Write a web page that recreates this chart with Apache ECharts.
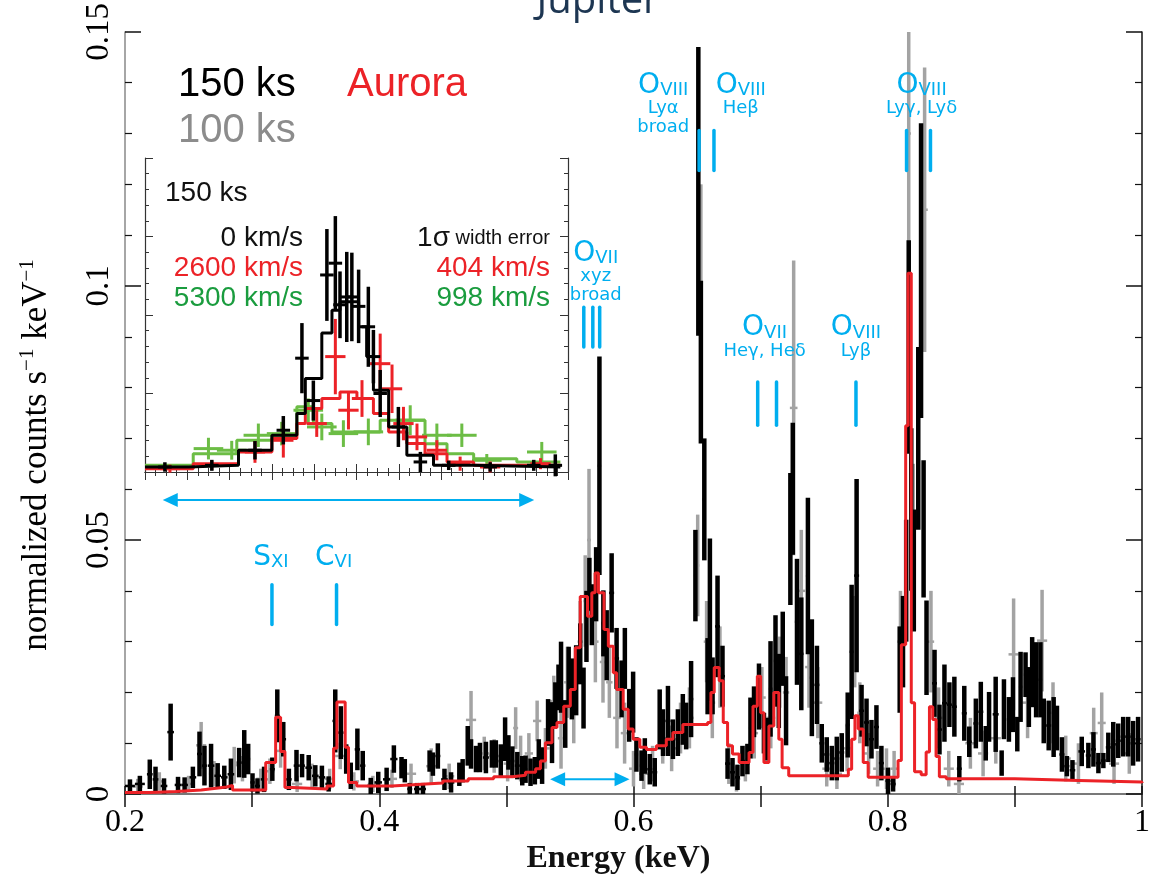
<!DOCTYPE html>
<html>
<head>
<meta charset="utf-8">
<script src="https://cdn.jsdelivr.net/npm/echarts@6/dist/echarts.min.js"></script>
<style>
  html, body { margin: 0; padding: 0; background: #fff; }
  #chart { width: 1153px; height: 880px; }
</style>
</head>
<body>
<div id="chart"></div>
<script>
// 150 ks spectrum (black)
const blackE = [0.2039,0.2117,0.2195,0.2240,0.2307,0.2359,0.2417,0.2469,0.2534,0.2586,0.2625,0.2677,0.2729,0.2781,0.2833,0.2898,0.2938,0.2969,0.3003,0.3042,0.3094,0.3159,0.3198,0.3245,0.3289,0.3349,0.3393,0.3445,0.3497,0.3549,0.3602,0.3654,0.3698,0.3740,
  0.3776,0.3828,0.3870,0.3933,0.3992,0.4058,0.4115,0.4175,0.4201,0.4240,0.4297,0.4344,0.4396,0.4422,0.4461,0.4513,0.4565,0.4630,0.4656,0.4696,0.4722,0.4761,0.4792,0.4839,0.4886,0.4917,0.4956,0.4990,0.5016,0.5047,0.5086,0.5125,0.5151,0.5190,0.5224,0.5255,0.5281,
  0.5328,0.5359,0.5385,0.5410,0.5430,0.5463,0.5490,0.5515,0.5549,0.5581,0.5607,0.5630,0.5653,0.5672,0.5706,0.5732,0.5763,0.5789,0.5828,0.5867,0.5906,0.5932,0.5966,0.5997,
  0.6023,0.6063,0.6089,0.6128,0.6167,0.6206,0.6232,0.6271,0.6310,0.6349,0.6388,0.6414,0.6453,0.6487,0.6510,0.6530,0.6557,0.6583,0.6601,0.6622,0.6661,0.6700,0.6740,0.6779,0.6818,0.6857,0.6896,0.6920,0.6948,0.6987,
  0.7026,0.7052,0.7078,0.7117,0.7143,0.7174,0.7200,0.7234,0.7253,0.7286,0.7320,0.7372,0.7403,0.7443,0.7481,0.7520,0.7560,0.7599,0.7638,0.7685,0.7716,0.7755,0.7794,0.7833,0.7872,0.7911,0.7950,0.8002,
  0.8042,0.8094,0.8120,0.8145,0.8165,0.8185,0.8205,0.8240,0.8262,0.8282,0.8305,0.8368,0.8407,0.8446,0.8485,0.8524,0.8563,0.8602,0.8641,0.8693,0.8732,0.8771,0.8797,0.8849,0.8896,0.8914,0.8953,0.8985,
  0.9019,0.9045,0.9084,0.9110,0.9136,0.9167,0.9201,0.9227,0.9266,0.9305,0.9331,0.9370,0.9409,0.9453,0.9526,0.9578,0.9618,0.9657,0.9696,0.9735,0.9774,0.9813,0.9852,0.9891,0.9930,0.9969];
const blackY = [0.0016,0.0020,0.0039,0.0029,0.0016,0.0122,0.0018,0.0018,0.0033,0.0079,0.0056,0.0056,0.0036,0.0033,0.0039,0.0062,0.0079,0.0069,0.0023,0.0016,0.0029,0.0049,0.0154,0.0108,0.0029,0.0056,0.0056,0.0052,0.0036,0.0033,0.0020,0.0144,0.0121,0.0069,
  0.0036,0.0088,0.0056,0.0016,0.0023,0.0029,0.0069,0.0052,0.0046,0.0010,0.0010,0.0010,0.0065,0.0059,0.0075,0.0029,0.0023,0.0039,0.0046,0.0095,0.0079,0.0069,0.0072,0.0072,0.0079,0.0079,0.0065,0.0108,0.0082,0.0065,0.0056,0.0046,0.0049,0.0043,0.0046,0.0069,0.0056,
  0.0141,0.0121,0.0175,0.0210,0.0230,0.0138,0.0230,0.0207,0.0224,0.0276,0.0189,0.0330,0.0413,0.0353,0.0413,0.0646,0.0336,0.0293,0.0396,0.0267,0.0207,0.0267,0.0155,0.0181,
  0.0078,0.0056,0.0075,0.0049,0.0043,0.0147,0.0121,0.0144,0.0108,0.0121,0.0147,0.0134,0.0187,0.0430,0.1186,0.0850,0.0580,0.0232,0.0343,0.0213,0.0330,0.0232,0.0060,0.0043,0.0033,0.0065,0.0069,0.0130,0.0162,0.0192,
  0.0120,0.0108,0.0207,0.0262,0.0203,0.0286,0.0164,0.0502,0.0601,0.0339,0.0276,0.0429,0.0229,0.0215,0.0100,0.0078,0.0061,0.0070,0.0082,0.0136,0.0280,0.0430,0.0164,0.0141,0.0108,0.0132,0.0061,0.0026,
  0.0020,0.0245,0.0300,0.0420,0.0880,0.0560,0.0440,0.0700,0.1030,0.0522,0.0288,0.0218,0.0127,0.0179,0.0176,0.0172,0.0050,0.0159,0.0103,0.0139,0.0162,0.0100,0.0152,0.0157,0.0061,0.0167,0.0147,0.0176,
  0.0118,0.0211,0.0235,0.0191,0.0240,0.0225,0.0225,0.0144,0.0135,0.0132,0.0130,0.0078,0.0055,0.0047,0.0084,0.0076,0.0088,0.0061,0.0066,0.0092,0.0098,0.0105,0.0113,0.0113,0.0100,0.0108];
const blackErr = [0.0013,0.0016,0.0029,0.0025,0.0015,0.0056,0.0016,0.0015,0.0021,0.0044,0.0039,0.0043,0.0025,0.0023,0.0031,0.0029,0.0047,0.0030,0.0018,0.0015,0.0025,0.0023,0.0052,0.0034,0.0021,0.0031,0.0023,0.0025,0.0021,0.0023,0.0015,0.0062,0.0052,0.0029,
  0.0026,0.0041,0.0029,0.0016,0.0021,0.0023,0.0027,0.0021,0.0023,0.0012,0.0012,0.0012,0.0021,0.0023,0.0025,0.0021,0.0020,0.0023,0.0023,0.0039,0.0029,0.0026,0.0029,0.0031,0.0027,0.0027,0.0033,0.0043,0.0034,0.0029,0.0027,0.0029,0.0027,0.0027,0.0027,0.0039,0.0036,
  0.0046,0.0060,0.0045,0.0045,0.0070,0.0047,0.0060,0.0060,0.0069,0.0060,0.0060,0.0070,0.0052,0.0060,0.0073,0.0215,0.0065,0.0069,0.0078,0.0060,0.0056,0.0060,0.0052,0.0060,
  0.0034,0.0030,0.0035,0.0030,0.0028,0.0059,0.0046,0.0069,0.0039,0.0046,0.0050,0.0046,0.0075,0.0090,0.0284,0.0160,0.0120,0.0075,0.0160,0.0056,0.0100,0.0060,0.0030,0.0028,0.0025,0.0030,0.0030,0.0060,0.0050,0.0065,
  0.0040,0.0042,0.0094,0.0090,0.0073,0.0073,0.0068,0.0130,0.0130,0.0124,0.0111,0.0154,0.0115,0.0077,0.0038,0.0034,0.0034,0.0043,0.0038,0.0064,0.0132,0.0190,0.0051,0.0047,0.0038,0.0043,0.0034,0.0026,
  0.0015,0.0085,0.0090,0.0120,0.0210,0.0160,0.0120,0.0180,0.0290,0.0135,0.0093,0.0066,0.0049,0.0076,0.0044,0.0059,0.0025,0.0054,0.0030,0.0049,0.0059,0.0034,0.0049,0.0074,0.0025,0.0059,0.0044,0.0054,
  0.0034,0.0069,0.0044,0.0059,0.0069,0.0074,0.0074,0.0044,0.0049,0.0059,0.0044,0.0034,0.0020,0.0020,0.0029,0.0025,0.0034,0.0020,0.0015,0.0029,0.0044,0.0034,0.0039,0.0039,0.0044,0.0044];

// 100 ks spectrum (grey)
const greyE = [0.2100,0.2270,0.2500,0.2599,0.2700,0.2859,0.2924,0.3068,0.3140,0.3224,0.3354,0.3471,0.3610,0.3693,0.3800,0.3950,0.4100,0.4250,0.4409,0.4550,0.4722,0.4826,0.4904,0.5010,0.5073,0.5112,0.5177,0.5242,0.5307,0.5373,
  0.5430,0.5480,0.5530,0.5580,0.5620,0.5650,0.5700,0.5760,0.5810,0.5870,0.5930,0.6000,0.6080,0.6150,0.6230,0.6300,0.6370,0.6440,0.6505,0.6530,0.6575,0.6620,0.6680,0.6750,0.6810,0.6880,0.6950,0.7010,0.7080,0.7150,
  0.7200,0.7260,0.7320,0.7380,0.7450,0.7520,0.7600,0.7680,0.7740,0.7780,0.7850,0.7920,0.7990,0.8050,0.8100,0.8165,0.8200,0.8290,0.8340,0.8400,0.8480,0.8560,0.8650,0.8750,0.8850,0.8990,0.9100,0.9214,0.9300,0.9400,
  0.9500,0.9620,0.9683,0.9780,0.9900];
const greyY = [0.0015,0.0025,0.0020,0.0096,0.0040,0.0057,0.0050,0.0030,0.0045,0.0085,0.0020,0.0035,0.0030,0.0075,0.0025,0.0020,0.0030,0.0040,0.0055,0.0035,0.0146,0.0080,0.0075,0.0060,0.0130,0.0070,0.0080,0.0144,0.0090,0.0183,
  0.0110,0.0220,0.0160,0.0300,0.0380,0.0500,0.0300,0.0260,0.0220,0.0150,0.0120,0.0050,0.0040,0.0060,0.0110,0.0090,0.0130,0.0150,0.0450,0.0950,0.0300,0.0180,0.0250,0.0060,0.0030,0.0060,0.0120,0.0190,0.0150,0.0240,
  0.0200,0.0760,0.0400,0.0250,0.0180,0.0050,0.0040,0.0090,0.0300,0.0160,0.0080,0.0050,0.0050,0.0050,0.0300,0.1300,0.0500,0.1150,0.0300,0.0150,0.0050,0.0020,0.0100,0.0080,0.0110,0.0275,0.0180,0.0302,0.0160,0.0070,
  0.0060,0.0120,0.0140,0.0060,0.0080];
const greyErr = [0.0015,0.0018,0.0016,0.0046,0.0025,0.0036,0.0025,0.0020,0.0025,0.0033,0.0016,0.0025,0.0020,0.0026,0.0018,0.0016,0.0018,0.0020,0.0035,0.0025,0.0057,0.0033,0.0033,0.0035,0.0041,0.0045,0.0040,0.0040,0.0040,0.0050,
  0.0060,0.0070,0.0060,0.0080,0.0090,0.0140,0.0080,0.0080,0.0070,0.0060,0.0060,0.0035,0.0030,0.0035,0.0050,0.0045,0.0050,0.0060,0.0100,0.0250,0.0080,0.0070,0.0080,0.0040,0.0025,0.0035,0.0050,0.0060,0.0060,0.0070,
  0.0070,0.0290,0.0120,0.0080,0.0070,0.0035,0.0030,0.0045,0.0090,0.0060,0.0040,0.0035,0.0040,0.0035,0.0100,0.0300,0.0150,0.0280,0.0100,0.0060,0.0035,0.0020,0.0050,0.0045,0.0050,0.0110,0.0070,0.0100,0.0060,0.0045,
  0.0040,0.0050,0.0060,0.0040,0.0040];

// aurora model (red step, bin left edges)
const modelE = [0.2000,0.2200,0.2400,0.2600,0.2700,0.2800,0.2846,0.3107,0.3185,0.3224,0.3258,0.3315,0.3589,0.3641,0.3667,0.3732,0.3758,0.3823,0.4100,0.4300,0.4500,0.4700,0.4900,0.5050,0.5150,0.5230,
  0.5268,0.5307,0.5359,0.5398,0.5451,0.5503,0.5542,0.5581,0.5638,0.5672,0.5698,0.5724,0.5768,0.5802,0.5841,0.5867,0.5919,0.5958,0.5997,0.6050,0.6102,0.6180,0.6258,0.6310,0.6388,0.6583,0.6609,0.6635,0.6674,0.6706,
  0.6740,0.6779,0.6831,0.6909,0.6940,0.6974,0.7000,0.7026,0.7065,0.7104,0.7143,0.7169,0.7221,0.7690,0.7716,0.7742,0.7768,0.7807,0.7846,0.8081,0.8107,0.8141,0.8159,0.8185,0.8211,0.8263,0.8302,0.8328,0.8354,0.8380,
  0.8406,0.8460,0.9000,0.9500,1.0000];
const modelY = [0.0003,0.0005,0.0008,0.0011,0.0014,0.0017,0.0008,0.0062,0.0151,0.0084,0.0013,0.0010,0.0016,0.0090,0.0181,0.0092,0.0023,0.0016,0.0019,0.0022,0.0026,0.0030,0.0034,0.0037,0.0043,0.0050,
  0.0065,0.0101,0.0131,0.0141,0.0173,0.0206,0.0288,0.0389,0.0350,0.0396,0.0435,0.0396,0.0324,0.0291,0.0239,0.0206,0.0167,0.0128,0.0108,0.0092,0.0088,0.0095,0.0108,0.0121,0.0137,0.0141,0.0200,0.0249,0.0223,0.0141,
  0.0095,0.0079,0.0062,0.0082,0.0173,0.0232,0.0160,0.0062,0.0134,0.0200,0.0108,0.0052,0.0036,0.0049,0.0108,0.0154,0.0128,0.0062,0.0033,0.0066,0.0294,0.0725,0.1025,0.0180,0.0044,0.0038,0.0083,0.0172,0.0147,0.0074,
  0.0034,0.0030,0.0027,0.0024,0.0022];

// inset: O VII region, energy in eV, counts in inset units
const inBlackEdge = [520,530.3,542.1,550.0,555.9,557.9,561.8,564.2,566.1,570.5,572.4,574.0,577.6,581.9,588.2,597.7,618.2];
const inBlackStep = [0.064,0.085,0.277,0.468,0.745,1.19,1.77,2.06,2.17,1.85,1.47,1.04,0.574,0.213,0.085,0.064,0.064];
const inRedEdge = [520,531.4,542.1,550.0,555.9,557.9,561.8,566.1,570.1,574.0,577.6,581.9,586.2,591.4,597.7,618.2];
const inRedStep = [0.04,0.106,0.255,0.426,0.617,0.81,0.936,1.02,0.936,0.745,0.51,0.362,0.234,0.128,0.085,0.085];
const inGreenEdge = [520,531.4,541.7,550.0,555.9,559.8,564.2,575.6,586.2,591.4,597.7,607.9,618.2];
const inGreenStep = [0.085,0.234,0.404,0.468,0.83,0.617,0.51,0.66,0.36,0.234,0.17,0.128,0.128];

const inBlackE = [524.7,535.8,546.0,552.7,557.1,559.8,563.0,565.0,566.1,567.7,568.9,570.5,572.8,574.0,575.6,579.9,585.1,591.8,601.6,611.9,617.0];
const inBlackY = [0.064,0.085,0.277,0.532,1.45,0.91,2.51,2.66,2.13,2.23,2.23,2.11,1.85,1.47,1.00,0.574,0.128,0.085,0.064,0.085,0.085];
const inBlackErr = [0.06,0.07,0.117,0.181,0.447,0.255,0.585,0.60,0.425,0.574,0.564,0.468,0.51,0.34,0.30,0.255,0.128,0.06,0.06,0.07,0.14];
const inRedE = [525.9,535.8,546.0,552.7,560.6,565.0,568.1,571.3,575.6,578.4,581.1,584.3,589.0,594.5,601.6,613.5];
const inRedY = [0.043,0.085,0.255,0.404,0.617,1.47,0.787,0.936,1.38,1.06,0.617,0.447,0.277,0.106,0.064,0.106];
const inRedErr = [0.05,0.06,0.138,0.22,0.17,0.48,0.245,0.234,0.383,0.309,0.213,0.17,0.128,0.09,0.07,0.07];
const inGreenE = [535.0,540.5,546.8,552.3,558.6,561.8,566.9,572.8,582.7,589.0,594.9,600.8,613.8];
const inGreenY = [0.298,0.277,0.468,0.489,0.787,0.574,0.489,0.511,0.66,0.468,0.468,0.149,0.255];
const inGreenErr = [0.138,0.12,0.149,0.15,0.15,0.17,0.17,0.17,0.19,0.149,0.149,0.08,0.128];

// line identifications
const markE = [0.3156,0.3664,0.5609,0.5680,0.5734,0.6516,0.6633,0.6977,0.7125,0.7750,0.8148,0.8336];
const markTop = [0.0412,0.0412,0.0958,0.0958,0.0958,0.1306,0.1306,0.0811,0.0811,0.0811,0.1306,0.1306];
const markBottom = [0.0334,0.0334,0.0880,0.0880,0.0880,0.1227,0.1227,0.0726,0.0726,0.0726,0.1227,0.1227];
const labelE = [0.3148,0.3641,0.5703,0.6234,0.6844,0.7031,0.7750,0.8266];
const labelY = [0.0465,0.0465,0.1064,0.1394,0.1394,0.0917,0.0917,0.1394];
const labelIon = ['S','C','O','O','O','O','O','O'];
const labelStage = ['XI','VI','VII','VIII','VIII','VII','VIII','VIII'];
const labelSub = [[],[],['xyz','broad'],['Lyα','broad'],['Heβ'],['Heγ, Heδ'],['Lyβ'],['Lyγ, Lyδ']];
const arrowFrom = [0.2297,0.5344];
const arrowTo = [0.5219,0.5969];
const arrowY = [0.0579,0.0029];

const BLUE = '#00aeef';
const RED = '#ec2227';

function crossData(E, Y, Err, cap) {
    return E.map((e, i) => {
        const prev = i > 0 ? e - E[i - 1] : E[i + 1] - e;
        const next = i < E.length - 1 ? E[i + 1] - e : prev;
        return [e, Y[i], Err[i], Math.min(prev, next, cap) / 2];
    });
}
function fixedCross(E, Y, Err, hw) {
    return E.map((e, i) => [e, Y[i], Err[i], hw]);
}
function stepData(E, Y) {
    return E.map((e, i) => [e, Y[i]]);
}
function crossRender(color, vw, hw) {
    return function (params, api) {
        const x = api.value(0), y = api.value(1), e = api.value(2), h = api.value(3);
        const a = api.coord([x, y - e]), b = api.coord([x, y + e]);
        const c = api.coord([x - h, y]), d = api.coord([x + h, y]);
        return {
            type: 'group',
            children: [
                { type: 'line', shape: { x1: a[0], y1: a[1], x2: b[0], y2: b[1] }, style: { stroke: color, lineWidth: vw } },
                { type: 'line', shape: { x1: c[0], y1: c[1], x2: d[0], y2: d[1] }, style: { stroke: color, lineWidth: hw } }
            ]
        };
    };
}

const chart = echarts.init(document.getElementById('chart'));

const serif = 'Liberation Serif';
const sans = 'Liberation Sans';

chart.setOption({
    animation: false,
    backgroundColor: '#fff',
    grid: [
        { left: 125, top: 31, width: 1024, height: 764 },
        { left: 145, top: 158, width: 423, height: 314, show: true, backgroundColor: '#fff', borderWidth: 0 }
    ],
    xAxis: [
        {
            gridIndex: 0, type: 'value', min: 0.2, max: 1, interval: 0.1, position: 'bottom',
            axisLine: { lineStyle: { color: '#111', width: 1.5 } },
            axisTick: { inside: true, length: 8, lineStyle: { color: '#111', width: 1.5 } },
            axisLabel: {
                fontFamily: serif, fontSize: 32, color: '#000', margin: 12,
                formatter: v => { const t = Math.round(v * 10); if (t % 2) return ''; return t === 10 ? '1' : (t / 10).toFixed(1); }
            },
            splitLine: { show: false },
            name: 'Energy (keV)', nameLocation: 'middle', nameGap: 47,
            nameTextStyle: { fontFamily: serif, fontSize: 32, fontWeight: 'bold', color: '#111', padding: [0, 30, 0, 0] }
        },
        {
            gridIndex: 0, type: 'value', min: 0.2, max: 1, interval: 0.1, position: 'top',
            axisLine: { lineStyle: { color: '#888', width: 1.5 } },
            axisTick: { inside: true, length: 13, lineStyle: { color: '#111', width: 1.5 } },
            axisLabel: { show: false }, splitLine: { show: false }
        },
        {
            gridIndex: 1, type: 'value', min: 520, max: 620, interval: 10, position: 'bottom',
            axisLine: { lineStyle: { color: '#333', width: 1.2 } },
            axisTick: { inside: true, length: 8, lineStyle: { color: '#333' } },
            minorTick: { show: true, splitNumber: 4, length: 4, lineStyle: { color: '#333' } },
            axisLabel: { show: false }, splitLine: { show: false }
        },
        {
            gridIndex: 1, type: 'value', min: 520, max: 620, interval: 10, position: 'top',
            axisLine: { lineStyle: { color: '#333', width: 1.2 } },
            axisTick: { inside: true, length: 8, lineStyle: { color: '#333' } },
            minorTick: { show: true, splitNumber: 4, length: 4, lineStyle: { color: '#333' } },
            axisLabel: { show: false }, splitLine: { show: false }
        }
    ],
    yAxis: [
        {
            gridIndex: 0, type: 'value', min: 0, max: 0.15, interval: 0.05, position: 'left',
            axisLine: { show: true, lineStyle: { color: '#888', width: 1.5 } },
            axisTick: { show: true, inside: true, length: 16, lineStyle: { color: '#111', width: 1.5 } },
            minorTick: { show: true, splitNumber: 5, length: 7, lineStyle: { color: '#111', width: 1.2 } },
            axisLabel: { rotate: 90, fontFamily: serif, fontSize: 33, color: '#000', margin: 9 },
            splitLine: { show: false }
        },
        {
            gridIndex: 0, type: 'value', min: 0, max: 0.15, interval: 0.05, position: 'right',
            axisLine: { show: true, lineStyle: { color: '#111', width: 1.5 } },
            axisTick: { show: true, inside: true, length: 16, lineStyle: { color: '#111', width: 1.5 } },
            minorTick: { show: true, splitNumber: 5, length: 7, lineStyle: { color: '#111', width: 1.2 } },
            axisLabel: { show: false }, splitLine: { show: false }
        },
        {
            gridIndex: 1, type: 'value', min: 0, max: 4, interval: 1, position: 'left',
            axisLine: { show: true, lineStyle: { color: '#333', width: 1.2 } },
            axisTick: { show: true, inside: true, length: 8, lineStyle: { color: '#333' } },
            minorTick: { show: true, splitNumber: 5, length: 4, lineStyle: { color: '#333' } },
            axisLabel: { show: false }, splitLine: { show: false }
        },
        {
            gridIndex: 1, type: 'value', min: 0, max: 4, interval: 1, position: 'right',
            axisLine: { show: true, lineStyle: { color: '#333', width: 1.2 } },
            axisTick: { show: true, inside: true, length: 8, lineStyle: { color: '#333' } },
            minorTick: { show: true, splitNumber: 5, length: 4, lineStyle: { color: '#333' } },
            axisLabel: { show: false }, splitLine: { show: false }
        }
    ],
    graphic: [
        { type: 'text', x: 598, y: 22, style: { text: 'Jupiter', fill: '#1d3652', font: '40px "Open Sans"', align: 'center', verticalAlign: 'bottom' } },
        { type: 'text', x: 37, y: 455, rotation: Math.PI / 2, style: {
            text: '{a|normalized counts s}{b|−1}{a| keV}{b|−1}', align: 'center', verticalAlign: 'middle',
            rich: {
                a: { fontFamily: serif, fontSize: 35, fill: '#000', lineHeight: 40, verticalAlign: 'middle' },
                b: { fontFamily: serif, fontSize: 21, fill: '#000', lineHeight: 40, verticalAlign: 'top' }
            } } },
        { type: 'text', x: 178, y: 85, style: { text: '150 ks', fill: '#000', font: '40px "Liberation Sans"', verticalAlign: 'middle' } },
        { type: 'text', x: 347, y: 85, style: { text: 'Aurora', fill: RED, font: '40px "Liberation Sans"', verticalAlign: 'middle' } },
        { type: 'text', x: 178, y: 131, style: { text: '100 ks', fill: '#8c8c8c', font: '40px "Liberation Sans"', verticalAlign: 'middle' } },
        { type: 'text', x: 165, y: 193, z: 20, style: { text: '150 ks', fill: '#111', font: '28px "Liberation Sans"', verticalAlign: 'middle' } },
        { type: 'text', x: 303, y: 238, z: 20, style: { text: '0 km/s', fill: '#111', font: '28px "Liberation Sans"', align: 'right', verticalAlign: 'middle' } },
        { type: 'text', x: 303, y: 268, z: 20, style: { text: '2600 km/s', fill: RED, font: '28px "Liberation Sans"', align: 'right', verticalAlign: 'middle' } },
        { type: 'text', x: 303, y: 298, z: 20, style: { text: '5300 km/s', fill: '#1a9c3e', font: '28px "Liberation Sans"', align: 'right', verticalAlign: 'middle' } },
        { type: 'text', x: 550, y: 238, z: 20, style: {
            text: '{a|1σ}{b| width error}', align: 'right', verticalAlign: 'middle',
            rich: { a: { fontFamily: sans, fontSize: 28, fill: '#111' }, b: { fontFamily: sans, fontSize: 20, fill: '#111' } } } },
        { type: 'text', x: 550, y: 268, z: 20, style: { text: '404 km/s', fill: RED, font: '28px "Liberation Sans"', align: 'right', verticalAlign: 'middle' } },
        { type: 'text', x: 550, y: 298, z: 20, style: { text: '998 km/s', fill: '#1a9c3e', font: '28px "Liberation Sans"', align: 'right', verticalAlign: 'middle' } }
    ],
    series: [
        {
            type: 'custom', xAxisIndex: 0, yAxisIndex: 0, z: 2, clip: true,
            data: crossData(greyE, greyY, greyErr, 0.008),
            renderItem: crossRender('#a3a3a3', 3.5, 2.5)
        },
        {
            type: 'custom', xAxisIndex: 0, yAxisIndex: 0, z: 3, clip: true,
            data: crossData(blackE, blackY, blackErr, 0.008),
            renderItem: crossRender('#000', 4.5, 2.5)
        },
        {
            type: 'line', xAxisIndex: 0, yAxisIndex: 0, z: 4, step: 'end', symbol: 'none',
            data: stepData(modelE, modelY),
            lineStyle: { color: RED, width: 3 }
        },
        {
            type: 'custom', xAxisIndex: 0, yAxisIndex: 0, z: 5,
            data: markE.map((e, i) => [e, markBottom[i], markTop[i]]),
            renderItem: function (params, api) {
                const a = api.coord([api.value(0), api.value(1)]);
                const b = api.coord([api.value(0), api.value(2)]);
                return { type: 'line', shape: { x1: a[0], y1: a[1], x2: b[0], y2: b[1] },
                    style: { stroke: BLUE, lineWidth: 3.5, lineCap: 'round' } };
            }
        },
        {
            type: 'custom', xAxisIndex: 0, yAxisIndex: 0, z: 5,
            data: labelE.map((e, i) => [e, labelY[i], i]),
            renderItem: function (params, api) {
                const i = api.value(2);
                const p = api.coord([api.value(0), api.value(1)]);
                const children = [{
                    type: 'text', x: p[0], y: p[1],
                    style: {
                        text: '{o|' + labelIon[i] + '}{r|' + labelStage[i] + '}',
                        align: 'center', verticalAlign: 'middle',
                        rich: {
                            o: { fontFamily: 'DejaVu Sans', fontSize: 28, fill: BLUE, verticalAlign: 'bottom' },
                            r: { fontFamily: 'DejaVu Sans', fontSize: 18, fill: BLUE, verticalAlign: 'bottom' }
                        }
                    }
                }];
                labelSub[i].forEach((t, k) => {
                    children.push({
                        type: 'text', x: p[0], y: p[1] + 23 + k * 19,
                        style: { text: t, fill: BLUE, font: '18px "DejaVu Sans"', align: 'center', verticalAlign: 'middle' }
                    });
                });
                return { type: 'group', children: children };
            }
        },
        {
            type: 'custom', xAxisIndex: 0, yAxisIndex: 0, z: 5,
            data: arrowFrom.map((e, i) => [e, arrowTo[i], arrowY[i]]),
            renderItem: function (params, api) {
                const a = api.coord([api.value(0), api.value(2)]);
                const b = api.coord([api.value(1), api.value(2)]);
                const L = 15, H = 7;
                return {
                    type: 'group', children: [
                        { type: 'line', shape: { x1: a[0] + L - 2, y1: a[1], x2: b[0] - L + 2, y2: b[1] }, style: { stroke: BLUE, lineWidth: 2 } },
                        { type: 'polygon', shape: { points: [[a[0], a[1]], [a[0] + L, a[1] - H], [a[0] + L, a[1] + H]] }, style: { fill: BLUE } },
                        { type: 'polygon', shape: { points: [[b[0], b[1]], [b[0] - L, b[1] - H], [b[0] - L, b[1] + H]] }, style: { fill: BLUE } }
                    ]
                };
            }
        },
        // inset
        {
            type: 'line', xAxisIndex: 2, yAxisIndex: 2, z: 10, step: 'end', symbol: 'none',
            data: stepData(inGreenEdge, inGreenStep), lineStyle: { color: '#6cbd45', width: 3 }
        },
        {
            type: 'custom', xAxisIndex: 2, yAxisIndex: 2, z: 10,
            data: fixedCross(inGreenE, inGreenY, inGreenErr, 3.5),
            renderItem: crossRender('#6cbd45', 3, 3)
        },
        {
            type: 'line', xAxisIndex: 2, yAxisIndex: 2, z: 11, step: 'end', symbol: 'none',
            data: stepData(inRedEdge, inRedStep), lineStyle: { color: RED, width: 3 }
        },
        {
            type: 'custom', xAxisIndex: 2, yAxisIndex: 2, z: 11,
            data: fixedCross(inRedE, inRedY, inRedErr, 2.4),
            renderItem: crossRender(RED, 3, 3)
        },
        {
            type: 'line', xAxisIndex: 2, yAxisIndex: 2, z: 12, step: 'end', symbol: 'none',
            data: stepData(inBlackEdge, inBlackStep), lineStyle: { color: '#000', width: 3 }
        },
        {
            type: 'custom', xAxisIndex: 2, yAxisIndex: 2, z: 12,
            data: fixedCross(inBlackE, inBlackY, inBlackErr, 1.6),
            renderItem: crossRender('#000', 3.5, 3)
        }
    ]
});
</script>
</body>
</html>
